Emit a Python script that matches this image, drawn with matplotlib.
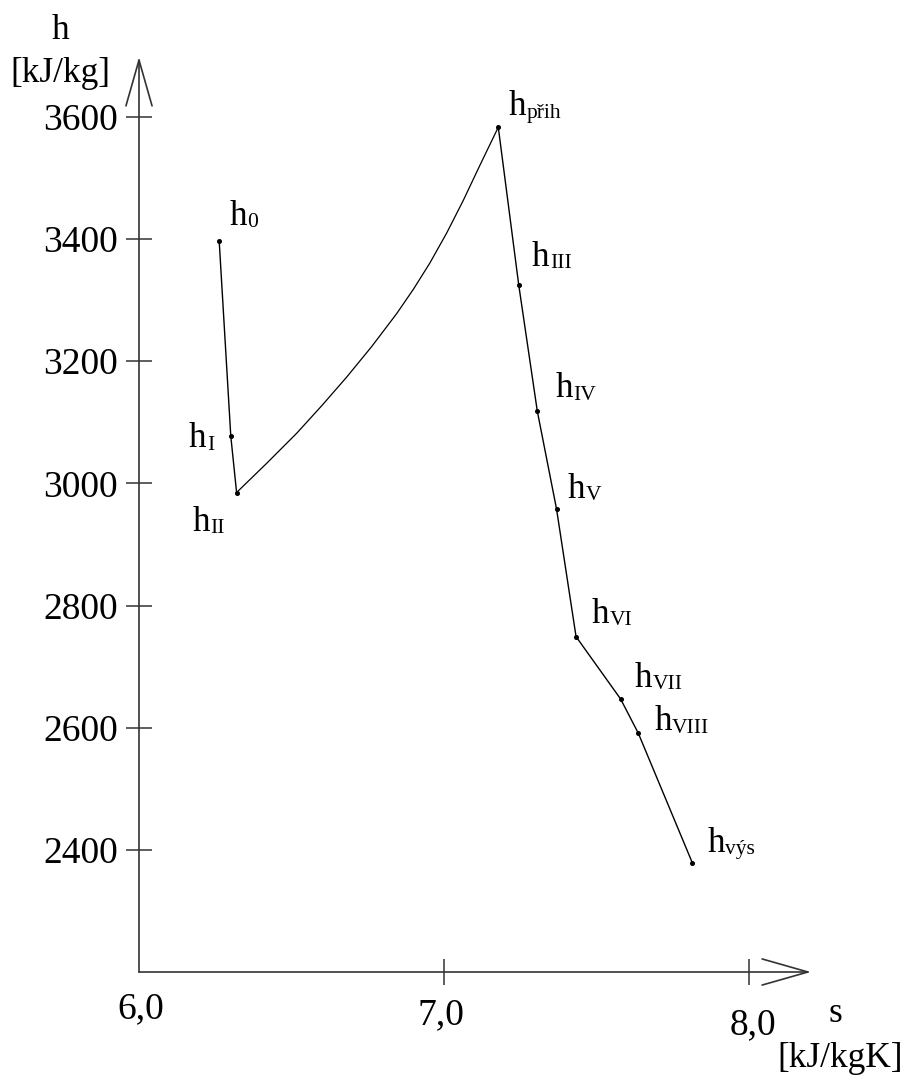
import matplotlib
matplotlib.use('Agg')
import matplotlib.pyplot as plt

plt.rcParams['font.family'] = ['Liberation Serif', 'DejaVu Serif']

#### state points (s in kJ/kgK, h in kJ/kg) ####
sub_labels = ['0', 'I', 'II', 'přih', 'III', 'IV', 'V', 'VI', 'VII', 'VIII', 'výs']
s_pts = [6.263, 6.301, 6.320, 7.178, 7.245, 7.306, 7.369, 7.433, 7.579, 7.637, 7.814]
h_pts = [3396, 3077, 2985, 3583, 3325, 3118, 2958, 2749, 2647, 2591, 2379]

#### reheating curve II -> přih ####
s_rh = [6.320, 6.419, 6.517, 6.599, 6.681, 6.763, 6.845, 6.900, 6.954,
        7.009, 7.063, 7.118, 7.178]
h_rh = [2985, 3033, 3082, 3127, 3174, 3224, 3278, 3318, 3361,
        3410, 3463, 3521, 3583]

#### axis ticks ####
x_ticks = [6.0, 7.0, 8.0]
x_ticklabels = ['6,0', '7,0', '8,0']
y_ticks = [2400, 2600, 2800, 3000, 3200, 3400, 3600]

# label offsets (points) relative to each state point
lab_off = [(7.2, 12.2), (-30.2, -7.9), (-31.7, -27.5), (7.2, 8.6), (9.4, 13.7),
           (13, 10), (7.9, 7.9), (11.5, 10), (10, 8.6), (11.5, 2.2), (10.8, 7.9)]
xlab_off = [(1.4, -14.4), (-2.2, -18.7), (2.9, -25.9)]

W, H = 907, 1077
fig = plt.figure(figsize=(W / 100, H / 100), dpi=100)
ax = fig.add_axes([139 / W, (H - 972) / H, (811 - 139) / W, (972 - 57) / H])
ax.set_xlim(6.0, 8.2033)
ax.set_ylim(2200, 3698)
for sp in ax.spines.values():
    sp.set_visible(False)

axcol = '#333333'
arrow = dict(arrowstyle='->,head_length=3.3,head_width=0.94', mutation_scale=10,
             lw=1.2, color=axcol, shrinkA=0, shrinkB=0)
ax.annotate('', xy=(1, 0), xytext=(0, 0), xycoords='axes fraction', arrowprops=arrow)
ax.annotate('', xy=(0, 1), xytext=(0, 0), xycoords='axes fraction', arrowprops=arrow)

#### process lines ####
ax.plot(s_pts[:3], h_pts[:3], color='k', lw=1.0)
ax.plot(s_rh, h_rh, color='k', lw=0.9)
ax.plot(s_pts[3:], h_pts[3:], color='k', lw=1.0)
ax.plot(s_pts, h_pts, 'o', color='k', ms=2.6)

for lab, x, y, off in zip(sub_labels, s_pts, h_pts, lab_off):
    t = ax.annotate('h', xy=(x, y), xytext=off, textcoords='offset points',
                    fontsize=25, ha='left', va='baseline')
    ax.annotate(lab, xy=(1, 0), xycoords=t, xytext=(0.3, 4), textcoords='offset points',
                fontsize=15.5, ha='left', va='baseline')

#### ticks ####
ax.set_yticks(y_ticks)
ax.set_yticklabels([str(v) for v in y_ticks])
ax.set_xticks(x_ticks[1:])
ax.set_xticklabels([])
ax.tick_params(axis='both', direction='inout', length=18.7, width=1.1, color=axcol)
ax.tick_params(axis='y', labelsize=27, pad=5.8)
for v, lab, off in zip(x_ticks, x_ticklabels, xlab_off):
    ax.annotate(lab, xy=(v, 0), xycoords=ax.get_xaxis_transform(), xytext=off,
                textcoords='offset points', fontsize=27, ha='center', va='top')

#### axis titles ####
fig.text(52 / W, 1 - 39 / H, 'h', fontsize=25.5, ha='left', va='baseline')
fig.text(10 / W, 1 - 82 / H, '[kJ/kg]', fontsize=25.5, ha='left', va='baseline')
fig.text(828 / W, 1 - 1022 / H, 's', fontsize=25.5, ha='left', va='baseline')
fig.text(777 / W, 1 - 1067 / H, '[kJ/kgK]', fontsize=25.5, ha='left', va='baseline')

fig.savefig('out.png', dpi=100)
